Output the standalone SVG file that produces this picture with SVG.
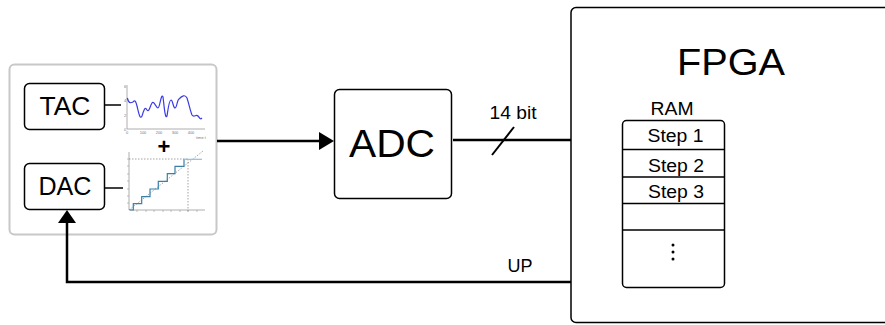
<svg xmlns="http://www.w3.org/2000/svg" width="885" height="325" viewBox="0 0 885 325">
<defs>
<style>
.box{fill:#fff;stroke:#000;stroke-width:1.5}
.lbl{font-family:"Liberation Sans",Arial,sans-serif;fill:#000;text-anchor:middle}
.wire{fill:none;stroke:#000;stroke-width:2.5}
.tick{font-family:"Liberation Sans",Arial,sans-serif;font-size:4px;fill:#777;text-anchor:middle}
.ax{stroke:#999;stroke-width:0.8;fill:none}
</style>
</defs>
<rect width="885" height="325" fill="#fff"/>

<g id="frontend">
<rect x="9.5" y="64.5" width="207" height="170" rx="5" fill="#fff" stroke="#c8c8c8" stroke-width="2"/>
</g>

<g id="connectors">
<line x1="105" y1="105" x2="121" y2="105" stroke="#000" stroke-width="1.5"/>
<line x1="105" y1="188" x2="123" y2="188" stroke="#000" stroke-width="1.5"/>
<line x1="217" y1="141" x2="320" y2="141" class="wire"/>
<path d="M319,132 L334,141 L319,150 z" fill="#000"/>
<line x1="453" y1="140" x2="571" y2="140" class="wire"/>
<line x1="492" y1="155" x2="514" y2="127" stroke="#000" stroke-width="2"/>
<path d="M571,282 L67,282 L67,222" class="wire"/>
<path d="M58,223 L67,210 L76,223 z" fill="#000"/>
<text x="513" y="119" class="lbl" font-size="18" textLength="47" lengthAdjust="spacingAndGlyphs">14 bit</text>
<text x="520" y="272" class="lbl" font-size="18" textLength="25" lengthAdjust="spacingAndGlyphs">UP</text>
</g>

<g id="tac">
<rect x="24.5" y="83.5" width="80" height="46" rx="5" class="box"/>
<text x="65" y="115" class="lbl" font-size="25" textLength="51" lengthAdjust="spacingAndGlyphs">TAC</text>
</g>

<g id="dac">
<rect x="24.5" y="163.5" width="80" height="46" rx="5" class="box"/>
<text x="65" y="195" class="lbl" font-size="25" textLength="53" lengthAdjust="spacingAndGlyphs">DAC</text>
</g>

<g id="tac-chart">
<path d="M127,85 L127,129 L205,129" class="ax"/>
<text x="125" y="88" class="tick" text-anchor="end">6</text>
<text x="125" y="102" class="tick" text-anchor="end">4</text>
<text x="125" y="117" class="tick" text-anchor="end">2</text>
<text x="125" y="131" class="tick" text-anchor="end">0</text>
<text x="127" y="134" class="tick">0</text>
<text x="143" y="134" class="tick">100</text>
<text x="159" y="134" class="tick">200</text>
<text x="175" y="134" class="tick">300</text>
<text x="191" y="134" class="tick">400</text>
<text x="201" y="139" class="tick">time t</text>
<path d="M127.3,98 C129,104 131,103 133,102 C135,99 136,102 137,106 C139,114 140,120 142,116 C144,110 145,106 147,110 C149,113 150,106 152,103 C154,100 156,108 158,108 C160,108 161,92 163,97 C164,104 165,120 167,116 C168,110 169,100 171,100 C173,100 173,108 175,108 C177,108 177,100 179,99 C182,96 185,94 187,98 C189,104 190,110 192,115 C194,118 196,114 198,116 C200,118 200,120 202,118" fill="none" stroke="#3a3ae8" stroke-width="1.2"/>
</g>

<text x="164" y="154" class="lbl" font-size="22" font-weight="bold">+</text>

<g id="dac-chart">
<path d="M129,152 L129,210 L205,210" class="ax"/>
<line x1="129" y1="159" x2="188" y2="159" stroke="#666" stroke-width="0.6" stroke-dasharray="1.5,1.5"/>
<line x1="188" y1="159" x2="188" y2="212" stroke="#666" stroke-width="0.6" stroke-dasharray="1.5,1.5"/>
<line x1="129" y1="210" x2="203" y2="151" stroke="#666" stroke-width="0.6" stroke-dasharray="1.5,1.5"/>
<path d="M137,210v2M146,210v2M154,210v2M163,210v2M171,210v2M180,210v2M188,210v2M197,210v2M127,203h2M127,196h2M127,189h2M127,181h2M127,174h2M127,166h2M127,159h2" stroke="#999" stroke-width="0.6"/>
<path d="M130,210 L133.3,210 L133.3,203.7 L141.7,203.7 L141.7,196.7 L150,196.7 L150,189 L158.3,189 L158.3,181.3 L167.3,181.3 L167.3,173.7 L175,173.7 L175,166.3 L184,166.3 L184,159.3" fill="none" stroke="#3a7fa8" stroke-width="1.2"/>
<line x1="184" y1="159.3" x2="202" y2="159.3" stroke="#8cc0dc" stroke-width="1.2"/>
</g>

<g id="adc">
<rect x="334.5" y="89.5" width="117" height="109" rx="5" class="box"/>
<text x="392" y="157" class="lbl" font-size="38" textLength="86" lengthAdjust="spacingAndGlyphs">ADC</text>
</g>

<g id="fpga">
<rect x="571" y="7.5" width="340" height="315" rx="5" class="box"/>
<text x="731" y="75" class="lbl" font-size="37" textLength="108" lengthAdjust="spacingAndGlyphs">FPGA</text>
<text x="672" y="115" class="lbl" font-size="18" textLength="43" lengthAdjust="spacingAndGlyphs">RAM</text>
</g>

<g id="ram">
<rect x="622.5" y="120.5" width="102" height="167" rx="4" class="box"/>
<path d="M622.5,149.5H724.5M622.5,177H724.5M622.5,203.5H724.5M622.5,230H724.5" stroke="#000" stroke-width="1.5"/>
<text x="675.5" y="142" class="lbl" font-size="18" textLength="56" lengthAdjust="spacingAndGlyphs">Step 1</text>
<text x="676" y="172" class="lbl" font-size="18" textLength="56" lengthAdjust="spacingAndGlyphs">Step 2</text>
<text x="676" y="198" class="lbl" font-size="18" textLength="56" lengthAdjust="spacingAndGlyphs">Step 3</text>
<circle cx="673" cy="245" r="1.5" fill="#000"/>
<circle cx="673" cy="252" r="1.5" fill="#000"/>
<circle cx="673" cy="259" r="1.5" fill="#000"/>
</g>
</svg>
